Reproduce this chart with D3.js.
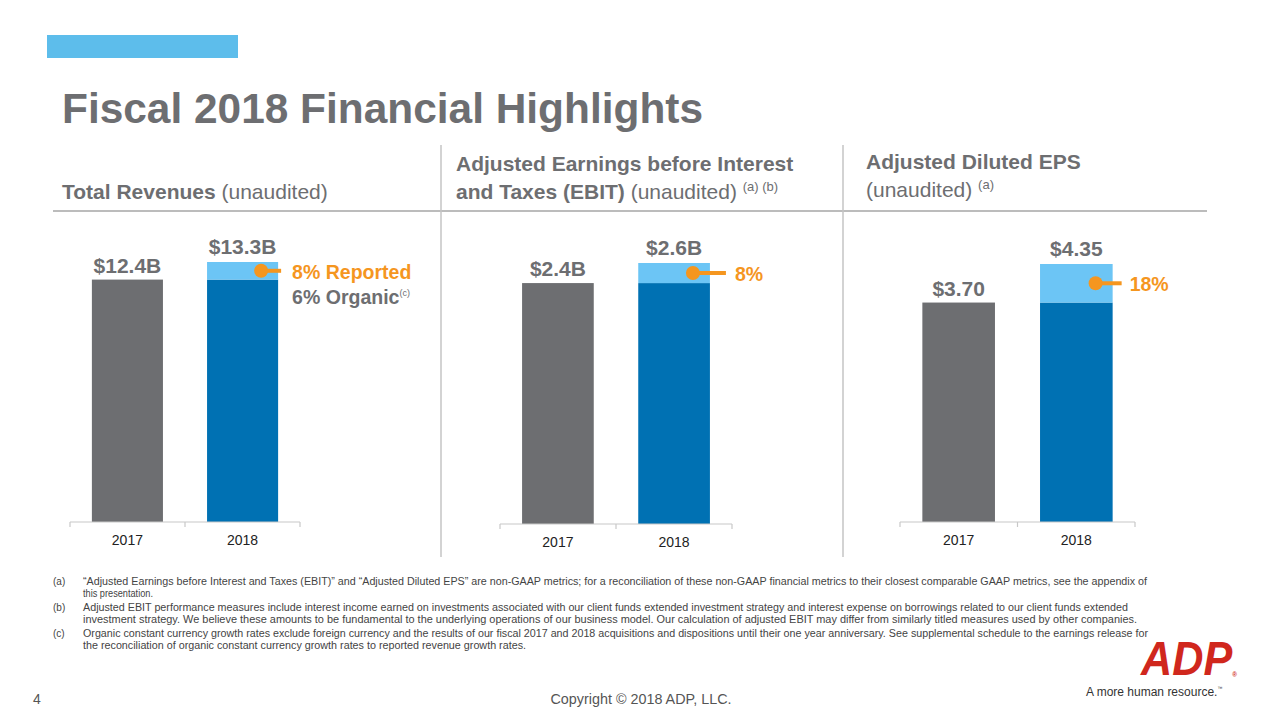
<!DOCTYPE html>
<html>
<head>
<meta charset="utf-8">
<script src="https://cdn.jsdelivr.net/npm/d3@7"></script>
<style>
  html, body { margin: 0; padding: 0; background: #fff; }
  svg { display: block; font-family: "Liberation Sans", Arial, Helvetica, sans-serif; }
</style>
</head>
<body>
<svg id="chart" width="1280" height="720"></svg>
<script>
// ---------------- DATA ----------------
const categories = ["2017", "2018"];
const values2017 = [12.4, 2.4, 3.70];
const values2018 = [13.3, 2.6, 4.35];
const valueLabels2017 = ["$12.4B", "$2.4B", "$3.70"];
const valueLabels2018 = ["$13.3B", "$2.6B", "$4.35"];
const growthLabels = ["8% Reported", "8%", "18%"];
const organicLabel = "6% Organic";
const organicNote = "(c)";
const titleText = "Fiscal 2018 Financial Highlights";
const footnoteKeys = ["(a)", "(b)", "(c)"];
const footnoteLines = [
  ["\u201CAdjusted Earnings before Interest and Taxes (EBIT)\u201D and \u201CAdjusted Diluted EPS\u201D are non-GAAP metrics; for a reconciliation of these non-GAAP financial metrics to their closest comparable GAAP metrics, see the appendix of",
   "this presentation."],
  ["Adjusted EBIT performance measures include interest income earned on investments associated with our client funds extended investment strategy and interest expense on borrowings related to our client funds extended",
   "investment strategy.  We believe these amounts to be fundamental to the underlying operations of our business model.  Our calculation of adjusted EBIT may differ from similarly titled measures used by other companies."],
  ["Organic constant currency growth rates exclude foreign currency and the results of our fiscal 2017 and 2018 acquisitions and dispositions until their one year anniversary. See supplemental schedule to the earnings release for",
   "the reconciliation of organic constant currency growth rates to reported revenue growth rates."]
];

// ---------------- LAYOUT ----------------
const GRAY = "#6d6e71", DARK = "#0071b3", LIGHT = "#6cc5f5", ORANGE = "#f5961f";
const panelRange = [[70, 300], [500, 732], [900, 1135]];
const panelAxisY = [522, 524, 522];
const panelTopY = [262, 263, 264];
const annoTextOff = [14, 25, 17];
const annoLineOff = [3, 16, 9];
const footLineEnd = [[1147, 153], [1128, 1137], [1148, 526]];

const svg = d3.select("#chart");

// top accent bar
svg.append("rect").attr("x", 47).attr("y", 35).attr("width", 191).attr("height", 23).attr("fill", "#5dbdeb");

// title
svg.append("text").attr("x", 62).attr("y", 123)
  .attr("font-size", 42).attr("font-weight", "bold").attr("fill", GRAY)
  .attr("textLength", 641).attr("lengthAdjust", "spacingAndGlyphs")
  .text(titleText);

// headers
const hdr = svg.append("g").attr("fill", GRAY).attr("font-size", 21);
let t = hdr.append("text").attr("x", 62).attr("y", 199);
t.append("tspan").attr("font-weight", "bold").text("Total Revenues");
t.append("tspan").text(" (unaudited)");

hdr.append("text").attr("x", 456).attr("y", 171).attr("font-weight", "bold").text("Adjusted Earnings before Interest");
t = hdr.append("text").attr("x", 456).attr("y", 199);
t.append("tspan").attr("font-weight", "bold").text("and Taxes (EBIT)");
t.append("tspan").text(" (unaudited) ");
t.append("tspan").attr("font-size", 13).attr("dy", -8).text("(a) (b)");

hdr.append("text").attr("x", 866).attr("y", 169).attr("font-weight", "bold").text("Adjusted Diluted EPS");
t = hdr.append("text").attr("x", 866).attr("y", 197);
t.append("tspan").text("(unaudited) ");
t.append("tspan").attr("font-size", 13).attr("dy", -8).text("(a)");

// separators
svg.append("line").attr("x1", 53).attr("x2", 1207).attr("y1", 211).attr("y2", 211)
  .attr("stroke", "#bcbcbc").attr("stroke-width", 2);
[441, 843].forEach(x => {
  svg.append("line").attr("x1", x).attr("x2", x).attr("y1", 145).attr("y2", 557)
    .attr("stroke", "#c4c4c4").attr("stroke-width", 1.5);
});

// panels
values2017.forEach((v17, i) => {
  const v18 = values2018[i];
  const g = svg.append("g");
  const x = d3.scaleBand().domain(categories).range(panelRange[i]).paddingInner(0.383).paddingOuter(0.19);
  const y = d3.scaleLinear().domain([0, v18]).range([panelAxisY[i], panelTopY[i]]);
  const bw = x.bandwidth();

  g.append("rect").attr("x", x("2017")).attr("y", y(v17)).attr("width", bw)
    .attr("height", y(0) - y(v17)).attr("fill", GRAY);
  g.append("rect").attr("x", x("2018")).attr("y", y(v17)).attr("width", bw)
    .attr("height", y(0) - y(v17)).attr("fill", DARK);
  g.append("rect").attr("x", x("2018")).attr("y", y(v18)).attr("width", bw)
    .attr("height", y(v17) - y(v18)).attr("fill", LIGHT);

  const r = x.range();
  const axisY = y(0);
  g.append("line").attr("x1", r[0]).attr("x2", r[1]).attr("y1", axisY).attr("y2", axisY)
    .attr("stroke", "#c8c8c8").attr("stroke-width", 1.2);
  [r[0], (r[0] + r[1]) / 2, r[1]].forEach(tx => {
    g.append("line").attr("x1", tx).attr("x2", tx).attr("y1", axisY).attr("y2", axisY + 5)
      .attr("stroke", "#c8c8c8").attr("stroke-width", 1.2);
  });
  categories.forEach(c => {
    g.append("text").attr("x", x(c) + bw / 2).attr("y", axisY + 23)
      .attr("text-anchor", "middle").attr("font-size", 14).attr("fill", "#222").text(c);
  });

  g.append("text").attr("x", x("2017") + bw / 2).attr("y", y(v17) - 7)
    .attr("text-anchor", "middle").attr("font-size", 21).attr("font-weight", "bold")
    .attr("fill", GRAY).text(valueLabels2017[i]);
  g.append("text").attr("x", x("2018") + bw / 2).attr("y", y(v18) - 8)
    .attr("text-anchor", "middle").attr("font-size", 21).attr("font-weight", "bold")
    .attr("fill", GRAY).text(valueLabels2018[i]);

  const right = x("2018") + bw;
  const midY = (y(v17) + y(v18)) / 2;
  g.append("line").attr("x1", right - 17).attr("x2", right + annoLineOff[i])
    .attr("y1", midY).attr("y2", midY).attr("stroke", ORANGE).attr("stroke-width", 4);
  g.append("circle").attr("cx", right - 17).attr("cy", midY).attr("r", 7).attr("fill", ORANGE);
  g.append("text").attr("x", right + annoTextOff[i]).attr("y", midY + 8)
    .attr("font-size", 19.5).attr("font-weight", "bold").attr("fill", ORANGE).text(growthLabels[i]);
  if (i === 0) {
    const o = g.append("text").attr("x", right + annoTextOff[i]).attr("y", midY + 33)
      .attr("font-size", 19.5).attr("font-weight", "bold").attr("fill", GRAY);
    o.append("tspan").text(organicLabel);
    o.append("tspan").attr("font-size", 9).attr("font-weight", "normal").attr("dy", -8).text(organicNote);
  }
});

// footnotes
const fn = svg.append("g").attr("font-size", 10).attr("fill", "#444");
const baseY = [585, 611, 637];
footnoteKeys.forEach((k, i) => {
  fn.append("text").attr("x", 53).attr("y", baseY[i]).text(k);
  footnoteLines[i].forEach((line, j) => {
    fn.append("text").attr("x", 83).attr("y", baseY[i] + j * 12)
      .attr("textLength", footLineEnd[i][j] - 83).attr("lengthAdjust", "spacingAndGlyphs")
      .text(line);
  });
});

// footer
svg.append("text").attr("x", 33).attr("y", 704).attr("font-size", 14).attr("fill", "#555").text("4");
svg.append("text").attr("x", 641).attr("y", 704).attr("text-anchor", "middle")
  .attr("font-size", 14).attr("fill", "#555")
  .attr("textLength", 181).attr("lengthAdjust", "spacingAndGlyphs")
  .text("Copyright \u00A9 2018 ADP, LLC.");

// logo
const logo = svg.append("text")
  .attr("transform", "translate(1141,675) scale(0.9,1)")
  .attr("font-size", 48).attr("font-weight", "bold").attr("font-style", "italic")
  .attr("fill", "#d0271d");
logo.append("tspan").text("ADP");
logo.append("tspan").attr("font-size", 7).attr("font-style", "normal").attr("dy", 2).text("\u00AE");
const tag = svg.append("text").attr("x", 1086).attr("y", 696).attr("font-size", 12).attr("fill", "#333");
tag.append("tspan").text("A more human resource.");
tag.append("tspan").attr("font-size", 5).attr("dy", -6).text("\u2122");
</script>
</body>
</html>
